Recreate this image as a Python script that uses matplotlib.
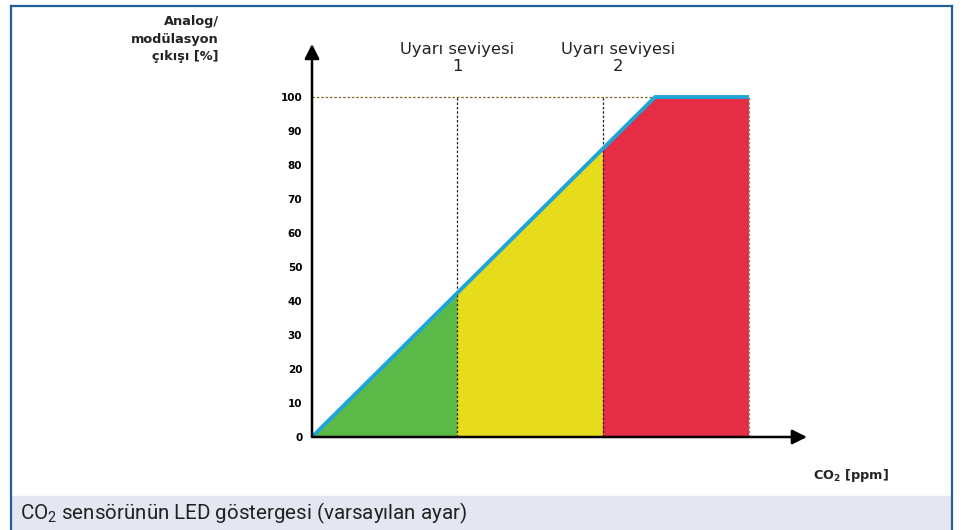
import matplotlib.pyplot as plt
from matplotlib.patches import Rectangle
from matplotlib.lines import Line2D

# data (x in arbitrary ppm units, output reaches 100 % at x = 100)
level1 = 42.3
level2 = 84.8
x_sat = 100
x_end = 127.4
yticks = [0, 10, 20, 30, 40, 50, 60, 70, 80, 90, 100]
level_labels = ["Uyarı seviyesi\n1", "Uyarı seviyesi\n2"]
level_label_x = [42.3, 89.2]
ylabel = "Analog/\nmodülasyon\nçıkışı [%]"
xlabel = "CO$_\\mathregular{2}$ [ppm]"
caption = "CO$_\\mathregular{2}$ sensörünün LED göstergesi (varsayılan ayar)"

green = "#5bba47"
yellow = "#e6dc1c"
red = "#e52d45"
blue = "#1ea5d8"

W, H = 968, 530
fig = plt.figure(figsize=(W / 100, H / 100), dpi=100)

def fx(px):
    return px / W

def fy(py):
    return 1 - py / H

# frame and caption band
fig.patches.append(Rectangle((fx(12), 0), fx(951) - fx(12), fy(496),
                             transform=fig.transFigure, color="#e4e7f1", zorder=0))
for xs, ys in [([11, 952], [6, 6]), ([11, 11], [6, 530]), ([952, 952], [6, 530])]:
    fig.lines.append(Line2D([fx(x) for x in xs], [fy(y) for y in ys],
                            transform=fig.transFigure, color="#1f5f9e", lw=1.6))

px_x = 3.43
px_y = 3.40
xmax, ymax = 150, 120
ax = fig.add_axes([fx(312), fy(437), xmax * px_x / W, ymax * px_y / H])
ax.set_xlim(0, xmax)
ax.set_ylim(0, ymax)
for s in ax.spines.values():
    s.set_visible(False)
ax.set_xticks([])
ax.set_yticks(yticks)
ax.set_yticklabels([str(t) for t in yticks], fontsize=7.5, fontweight="bold")
ax.tick_params(axis="y", length=0, pad=7)
ax.patch.set_alpha(0)

def top(x):
    return min(x, 100)

ax.fill([0, level1, level1], [0, top(level1), 0], color=green, lw=0, zorder=1)
ax.fill([level1, level2, level2, level1], [0, 0, top(level2), top(level1)],
        color=yellow, lw=0, zorder=1)
ax.fill([level2, x_end, x_end, x_sat, level2], [0, 0, 100, 100, top(level2)],
        color=red, lw=0, zorder=1)

ax.plot([0, x_sat], [100, 100], color="#7a6a30", lw=0.9, ls=(0, (2, 1.5)), zorder=2)
ax.plot([level1, level1], [0, 100], color="#222222", lw=0.9, ls=(0, (2, 1.5)), zorder=2)
ax.plot([level2, level2], [0, 100], color="#222222", lw=0.9, ls=(0, (2, 1.5)), zorder=2)
ax.plot([x_end, x_end], [0, 100], color="#888888", lw=0.9, ls=(0, (2, 1.5)), zorder=2)

ax.plot([0, x_sat, x_end], [0, 100, 100], color=blue, lw=2.8,
        solid_capstyle="butt", zorder=3)

ax.annotate("", xy=(144.3, 0), xytext=(0, 0),
            arrowprops=dict(arrowstyle="-|>", mutation_scale=22, lw=1.8,
                            color="black", shrinkA=0, shrinkB=0), zorder=4)
ax.annotate("", xy=(0, 115.6), xytext=(0, 0),
            arrowprops=dict(arrowstyle="-|>", mutation_scale=22, lw=1.8,
                            color="black", shrinkA=0, shrinkB=0), zorder=4)

for lx, lt in zip(level_label_x, level_labels):
    ax.text(lx, (437 - 42) / px_y, lt, ha="center", va="top", fontsize=11.8,
            linespacing=1.15, color="#222222")

fig.text(fx(219), fy(15), ylabel, ha="right", va="top", fontsize=9.3,
         fontweight="bold", linespacing=1.45, color="#222222")
fig.text(fx(889), fy(475), xlabel, ha="right", va="center", fontsize=9.3,
         fontweight="bold", color="#222222")
fig.text(fx(20), fy(513), caption, ha="left", va="center", fontsize=14.8,
         family="Roboto", color="#222222")

fig.savefig("out.png", dpi=100)
